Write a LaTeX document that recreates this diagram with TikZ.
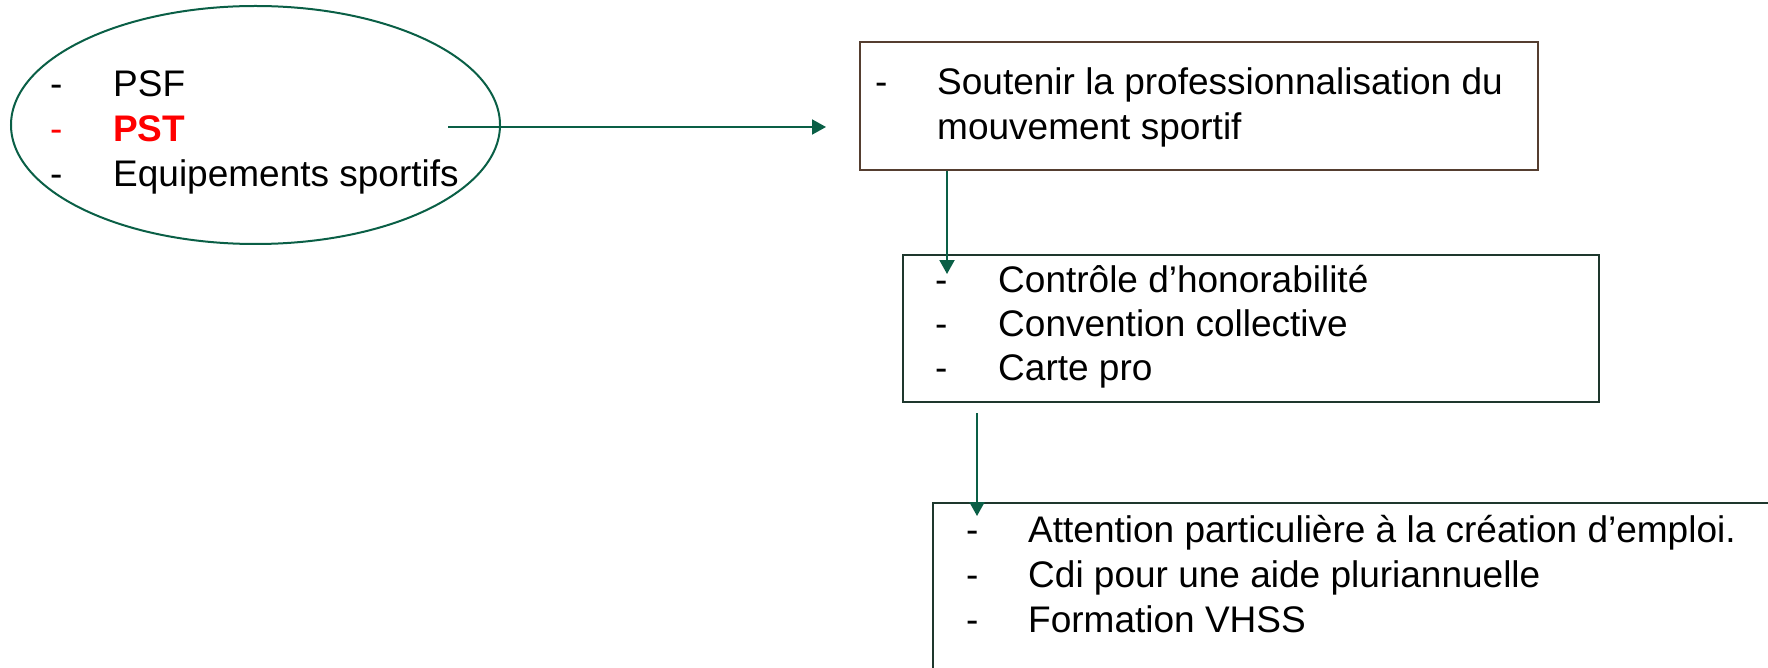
\documentclass[tikz,border=0pt]{standalone}
\usepackage{fontspec}
\setmainfont{Liberation Sans}
\usetikzlibrary{arrows.meta, positioning, shapes.geometric}

\definecolor{linkgreen}{RGB}{10,95,70}
\definecolor{boxbrown}{RGB}{85,62,48}
\definecolor{boxdark}{RGB}{30,55,45}

\begin{document}
\begin{tikzpicture}[x=1pt, y=-1pt,
    entry/.style={anchor=base west, inner sep=0pt, font=\fontsize{37}{44.5}\selectfont},
    listbox/.style={draw, line width=2pt, anchor=north west, inner sep=0pt},
    flow/.style={draw=linkgreen, line width=2pt, -{Triangle[length=14pt,width=15pt]}}]
			\useasboundingbox (0,0) rectangle (1768,668);
			\clip (0,0) rectangle (1768,668);

			% Draw the ellipse
			\node[draw=linkgreen, line width=2pt, ellipse, minimum width=489pt, minimum height=238pt, inner sep=0pt] (funds) at (255.5,125) {};

			\node[entry] (d1) at (50, 97) {-};
			\node[entry] (t1) at (113, 97) {PSF};
			\node[entry, text=red] (d2) at (50, 97+45) {-};
			\node[entry, text=red] (t2) at (113, 97+45) {\bfseries PST};
			\node[entry] (d3) at (50, 97+90) {-};
			\node[entry] (t3) at (113, 97+90) {Equipements sportifs};

			% Draw the boxes
			\node[listbox, draw=boxbrown, minimum width=678pt, minimum height=128pt] (aim) at (859,41) {};
			\node[listbox, draw=boxdark, minimum width=696pt, minimum height=147pt] (tools) at (902,254) {};
			\node[listbox, draw=boxdark, minimum width=900pt, minimum height=260pt] (jobs) at (932,502) {};

			% Texts of the first box
			\node[entry] (d4) at (875, 95) {-};
			\node[entry] (t4) at (937, 95) {Soutenir la professionnalisation du};
			\node[entry] (t5) at (937, 95+45) {mouvement sportif};

			% Texts of the second box
			\node[entry] (d6) at (935, 292) {-};
			\node[entry] (t6) at (998, 292) {Contrôle d’honorabilité};
			\node[entry] (d7) at (935, 292+44) {-};
			\node[entry] (t7) at (998, 292+44) {Convention collective};
			\node[entry] (d8) at (935, 292+88) {-};
			\node[entry] (t8) at (998, 292+88) {Carte pro};

			% Texts of the third box
			\node[entry] (d9) at (966, 542) {-};
			\node[entry] (t9) at (1028, 542) {Attention particulière à la création d’emploi.};
			\node[entry] (d10) at (966, 542+45) {-};
			\node[entry] (t10) at (1028, 542+45) {Cdi pour une aide pluriannuelle};
			\node[entry] (d11) at (966, 542+90) {-};
			\node[entry] (t11) at (1028, 542+90) {Formation VHSS};

			% Draw the arrows
			\coordinate (a1s) at (448,127);
			\coordinate (a1e) at (826,127);
			\coordinate (a2e) at (947,274);
			\coordinate (a3s) at (977,413);
			\coordinate (a3e) at (977,516);

			\draw[flow] (a1s) -- (a1e);
			\draw[flow] (aim.south -| a2e) -- (a2e);
			\draw[flow] (a3s) -- (a3e);

		\end{tikzpicture}
\end{document}
